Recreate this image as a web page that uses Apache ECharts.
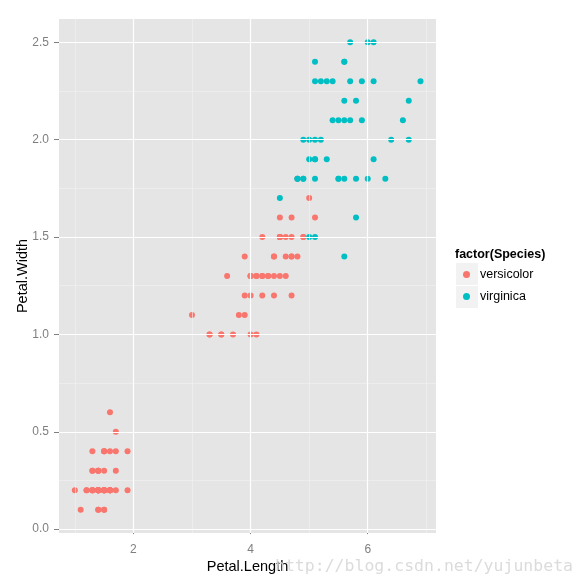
<!DOCTYPE html>
<html><head><meta charset="utf-8">
<script src="https://cdn.jsdelivr.net/npm/echarts@6/dist/echarts.min.js"></script>
<style>html,body{margin:0;padding:0;background:#fff}#c{width:588px;height:587px}</style>
</head><body><div id="c"></div>
<script>
// red group (setosa + versicolor rows, drawn as "versicolor")
var versicolorLength = [1.4,1.4,1.3,1.5,1.4,1.7,1.4,1.5,1.4,1.5,1.5,1.6,1.4,1.1,1.2,1.5,1.3,1.4,1.7,1.5,1.7,1.5,1.0,1.7,1.9,1.6,1.6,1.5,1.4,1.6,1.6,1.5,1.5,1.4,1.5,1.2,1.3,1.4,1.3,1.5,1.3,1.3,1.3,1.6,1.9,1.4,1.6,1.4,1.5,1.4,
  4.7,4.5,4.9,4.0,4.6,4.5,4.7,3.3,4.6,3.9,3.5,4.2,4.0,4.7,3.6,4.4,4.5,4.1,4.5,3.9,4.8,4.0,4.9,4.7,4.3,4.4,4.8,5.0,4.5,3.5,3.8,3.7,3.9,5.1,4.5,4.5,4.7,4.4,4.1,4.0,4.4,4.6,4.0,3.3,4.2,4.2,4.2,4.3,3.0,4.1];
var versicolorWidth = [0.2,0.2,0.2,0.2,0.2,0.4,0.3,0.2,0.2,0.1,0.2,0.2,0.1,0.1,0.2,0.4,0.4,0.3,0.3,0.3,0.2,0.4,0.2,0.5,0.2,0.2,0.4,0.2,0.2,0.2,0.2,0.4,0.1,0.2,0.2,0.2,0.2,0.1,0.2,0.2,0.3,0.3,0.2,0.6,0.4,0.3,0.2,0.2,0.2,0.2,
  1.4,1.5,1.5,1.3,1.5,1.3,1.6,1.0,1.3,1.4,1.0,1.5,1.0,1.4,1.3,1.4,1.5,1.0,1.5,1.1,1.8,1.3,1.5,1.2,1.3,1.4,1.4,1.7,1.5,1.0,1.1,1.0,1.2,1.6,1.5,1.6,1.5,1.3,1.3,1.3,1.2,1.4,1.2,1.0,1.3,1.2,1.3,1.3,1.1,1.3];
var virginicaLength = [6.0,5.1,5.9,5.6,5.8,6.6,4.5,6.3,5.8,6.1,5.1,5.3,5.5,5.0,5.1,5.3,5.5,6.7,6.9,5.0,5.7,4.9,6.7,4.9,5.7,6.0,4.8,4.9,5.6,5.8,6.1,6.4,5.6,5.1,5.6,6.1,5.6,5.5,4.8,5.4,5.6,5.1,5.1,5.9,5.7,5.2,5.0,5.2,5.4,5.1];
var virginicaWidth = [2.5,1.9,2.1,1.8,2.2,2.1,1.7,1.8,1.8,2.5,2.0,1.9,2.1,2.0,2.4,2.3,1.8,2.2,2.3,1.5,2.3,2.0,2.0,1.8,2.1,1.8,1.8,1.8,2.1,1.6,1.9,2.0,2.2,1.5,1.4,2.3,2.4,1.8,1.8,2.1,2.4,2.3,1.9,2.3,2.5,2.3,1.9,2.0,2.3,1.8];
var xTicks = [2,4,6];
var xMinor = [1,3,5,7];
var yTicks = [0,0.5,1,1.5,2,2.5];
var yMinor = [0.25,0.75,1.25,1.75,2.25];

function zip(a,b){return a.map(function(v,i){return [v,b[i]];});}
function ml(axis, vals, color, w){
  return vals.map(function(v){var o={}; o[axis]=v; o.lineStyle={color:color,width:w,type:'solid'}; return o;});
}
var grey='#7F7F7F';
var chart = echarts.init(document.getElementById('c'));
chart.setOption({
  animation:false,
  grid:{left:59,right:152,top:19,bottom:54,show:true,backgroundColor:'#E5E5E5',borderWidth:0},
  xAxis:{type:'value',min:0.73,max:7.165,
    name:'Petal.Length',nameLocation:'middle',nameGap:26,nameMoveOverlap:false,
    nameTextStyle:{color:'#000',fontSize:14.5,fontFamily:'Liberation Sans'},
    axisLine:{show:false},
    axisTick:{show:true,length:5,lineStyle:{color:grey},customValues:xTicks},
    axisLabel:{color:grey,fontSize:12,fontFamily:'Liberation Sans',margin:11,customValues:xTicks,formatter:function(v){return String(v);}},
    splitLine:{show:false}},
  yAxis:{type:'value',min:-0.02,max:2.62,
    name:'Petal.Width',nameLocation:'middle',nameGap:29,nameMoveOverlap:false,
    nameTextStyle:{color:'#000',fontSize:14.5,fontFamily:'Liberation Sans'},
    axisLine:{show:false},
    axisTick:{show:true,length:5,lineStyle:{color:grey},customValues:yTicks},
    axisLabel:{color:grey,fontSize:12,fontFamily:'Liberation Sans',margin:10,customValues:yTicks,formatter:function(v){return v.toFixed(1);}},
    splitLine:{show:false}},
  title:{text:'factor(Species)',left:455,top:248,padding:0,textStyle:{fontSize:12.5,fontWeight:'bold',color:'#000',fontFamily:'Liberation Sans'}},
  legend:{orient:'vertical',left:458,top:263,itemWidth:7,itemHeight:7,itemGap:9,
    data:[{name:'versicolor',icon:'circle'},{name:'virginica',icon:'circle'}],
    textStyle:{fontSize:12.5,color:'#000',fontFamily:'Liberation Sans',padding:[0,0,0,5]}},
  graphic:[
    {type:'rect',shape:{x:456,y:263,width:22,height:22},style:{fill:'#F2F2F2'},z:-1},
    {type:'rect',shape:{x:456,y:286,width:22,height:22},style:{fill:'#F2F2F2'},z:-1},
    {type:'text',left:275,top:558,style:{text:'http://blog.csdn.net/yujunbeta',fill:'rgba(215,215,215,0.9)',font:'16.5px "DejaVu Sans Mono"'},z:10}
  ],
  series:[
    {type:'scatter',data:[],silent:true,z:1,
      markLine:{silent:true,symbol:'none',label:{show:false},animation:false,
        data:[].concat(ml('xAxis',xMinor,'#F2F2F2',0.6),ml('yAxis',yMinor,'#F2F2F2',0.6),ml('xAxis',xTicks,'#FFFFFF',1.2),ml('yAxis',yTicks,'#FFFFFF',1.2))}},
    {name:'versicolor',type:'scatter',z:3,symbol:'circle',symbolSize:6,itemStyle:{color:'#F8766D',opacity:1},data:zip(versicolorLength,versicolorWidth)},
    {name:'virginica',type:'scatter',z:3,symbol:'circle',symbolSize:6,itemStyle:{color:'#00BFC4',opacity:1},data:zip(virginicaLength,virginicaWidth)}
  ]
});
</script></body></html>
